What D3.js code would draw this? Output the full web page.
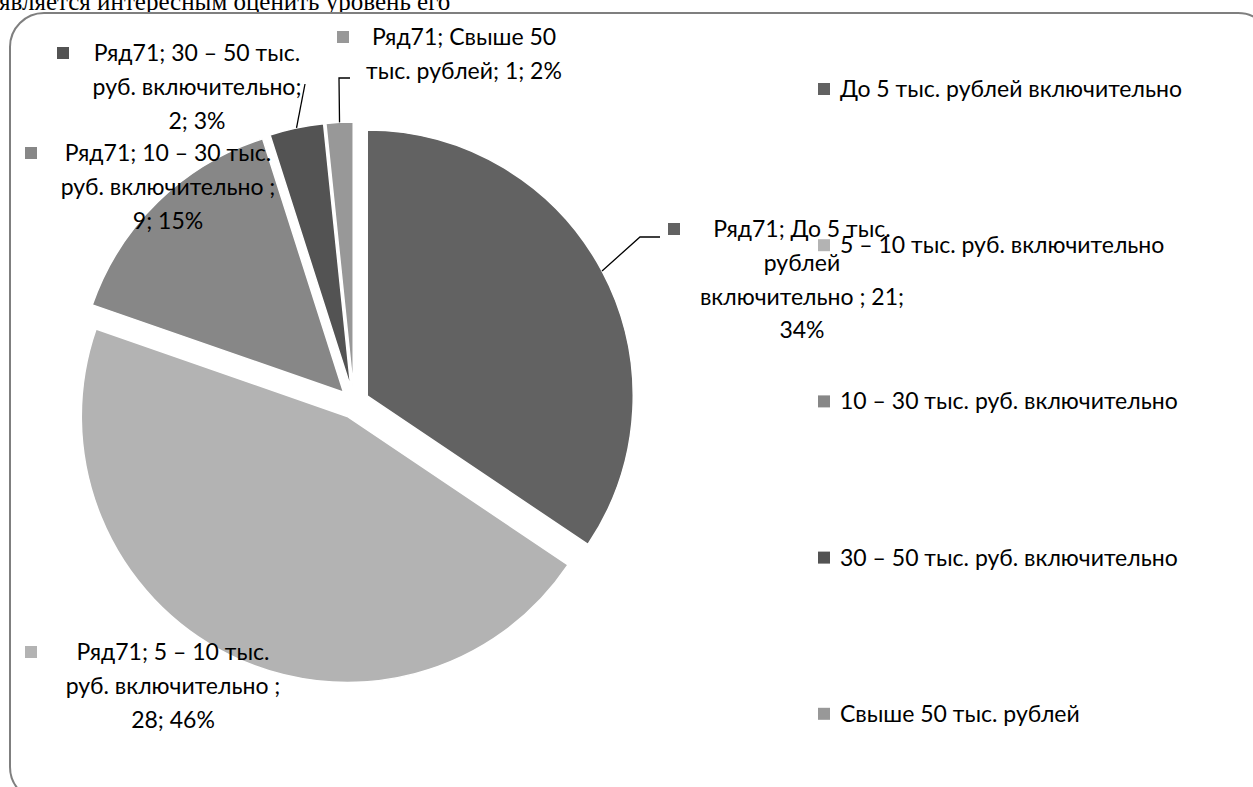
<!DOCTYPE html>
<html>
<head>
<meta charset="utf-8">
<script src="https://cdn.jsdelivr.net/npm/d3@7"></script>
<style>
  html, body { margin: 0; padding: 0; background: #fff; overflow: hidden; }
  svg { display: block; }
</style>
</head>
<body>
<svg id="chart" width="1253" height="787"></svg>
<script>
// ---- data ----
const seriesName = "Ряд71";
const categories = [
  "До 5 тыс. рублей включительно ",
  "5 – 10 тыс. руб. включительно ",
  "10 – 30 тыс. руб. включительно ",
  "30 – 50 тыс. руб. включительно",
  "Свыше 50 тыс. рублей"
];
const values = [21, 28, 9, 2, 1];
const percentLabels = ["34%", "46%", "15%", "3%", "2%"];
const precedingText = "является интересным оценить уровень его";

// ---- styling / layout ----
const sliceColors = ["#626262", "#b3b3b3", "#878787", "#535353", "#989898"];
const center = { x: 354, y: 403 };
const radius = 266;
const explode = 15;
const labelFont = "Lato, 'Open Sans', sans-serif";
const labelSize = 23;
const lineHeight = 33.8;

// words per wrapped line of each data label
const labelWrap = [[4, 1, 3, 1], [5, 3, 2], [5, 3, 2], [5, 2, 2], [3, 4]];
// centre x of label text block, centre y of its first line, x of its key square
const labelPos = [
  { cx: 802, y: 229, keyX: 668 },
  { cx: 173, y: 652, keyX: 25 },
  { cx: 168, y: 153, keyX: 25 },
  { cx: 197, y: 53, keyX: 57 },
  { cx: 464, y: 37, keyX: 337 }
];
// leader line bends, from the slice outwards
const leaders = [
  [[640, 237], [660, 237]],
  null,
  null,
  [[305, 84]],
  [[339, 78], [350, 78]]
];
const legendPos = { keyX: 818, textX: 840, y0: 89, step: 156.2 };

const svg = d3.select("#chart");

// text line above the chart area
svg.append("text")
  .attr("x", -1)
  .attr("y", 10)
  .attr("font-family", "'Liberation Serif', 'Times New Roman', serif")
  .attr("font-size", 25)
  .attr("fill", "#000")
  .text(precedingText);

// rounded chart frame
svg.append("rect")
  .attr("x", 10).attr("y", 13)
  .attr("width", 1262).attr("height", 788)
  .attr("rx", 34).attr("ry", 34)
  .attr("fill", "#fff")
  .attr("stroke", "#7f7f7f")
  .attr("stroke-width", 2);

const pie = d3.pie().sort(null).value(d => d);
const arcs = pie(values);
const arc = d3.arc().innerRadius(0).outerRadius(radius);

function offsetOf(a) {
  const m = (a.startAngle + a.endAngle) / 2;
  return [explode * Math.sin(m), -explode * Math.cos(m)];
}

const g = svg.append("g").attr("transform", `translate(${center.x},${center.y})`);

g.selectAll("path.slice")
  .data(arcs)
  .join("path")
  .attr("class", "slice")
  .attr("transform", d => { const o = offsetOf(d); return `translate(${o[0]},${o[1]})`; })
  .attr("d", arc)
  .attr("fill", (d, i) => sliceColors[i])
  .attr("stroke", "#fff")
  .attr("stroke-width", 1.5);

// leader lines from the slice rim to the label
arcs.forEach((a, i) => {
  if (!leaders[i]) return;
  const m = (a.startAngle + a.endAngle) / 2;
  const o = offsetOf(a);
  const start = [center.x + o[0] + radius * Math.sin(m), center.y + o[1] - radius * Math.cos(m)];
  svg.append("path")
    .attr("d", d3.line()([start].concat(leaders[i])))
    .attr("fill", "none")
    .attr("stroke", "#000")
    .attr("stroke-width", 1.3);
});

// data labels
arcs.forEach((a, i) => {
  const full = `${seriesName}; ${categories[i]}; ${values[i]}; ${percentLabels[i]}`;
  const words = full.split(/\s+/).filter(w => w.length);
  const lines = [];
  let k = 0;
  labelWrap[i].forEach(n => { lines.push(words.slice(k, k + n).join(" ")); k += n; });
  const p = labelPos[i];
  const t = svg.append("text")
    .attr("font-family", labelFont)
    .attr("font-size", labelSize)
    .attr("fill", "#000")
    .attr("text-anchor", "middle");
  lines.forEach((ln, j) => {
    t.append("tspan")
      .attr("x", p.cx)
      .attr("y", p.y + j * lineHeight)
      .attr("dy", "0.35em")
      .text(ln);
  });
  svg.append("rect")
    .attr("x", p.keyX).attr("y", p.y - 6)
    .attr("width", 12).attr("height", 12)
    .attr("fill", sliceColors[i]);
});

// legend
const lg = svg.append("g");
categories.forEach((c, i) => {
  const y = legendPos.y0 + i * legendPos.step;
  lg.append("rect")
    .attr("x", legendPos.keyX).attr("y", y - 6)
    .attr("width", 12).attr("height", 12)
    .attr("fill", sliceColors[i]);
  lg.append("text")
    .attr("x", legendPos.textX).attr("y", y)
    .attr("dy", "0.35em")
    .attr("font-family", labelFont)
    .attr("font-size", labelSize)
    .attr("fill", "#000")
    .text(c.trim());
});
</script>
</body>
</html>
